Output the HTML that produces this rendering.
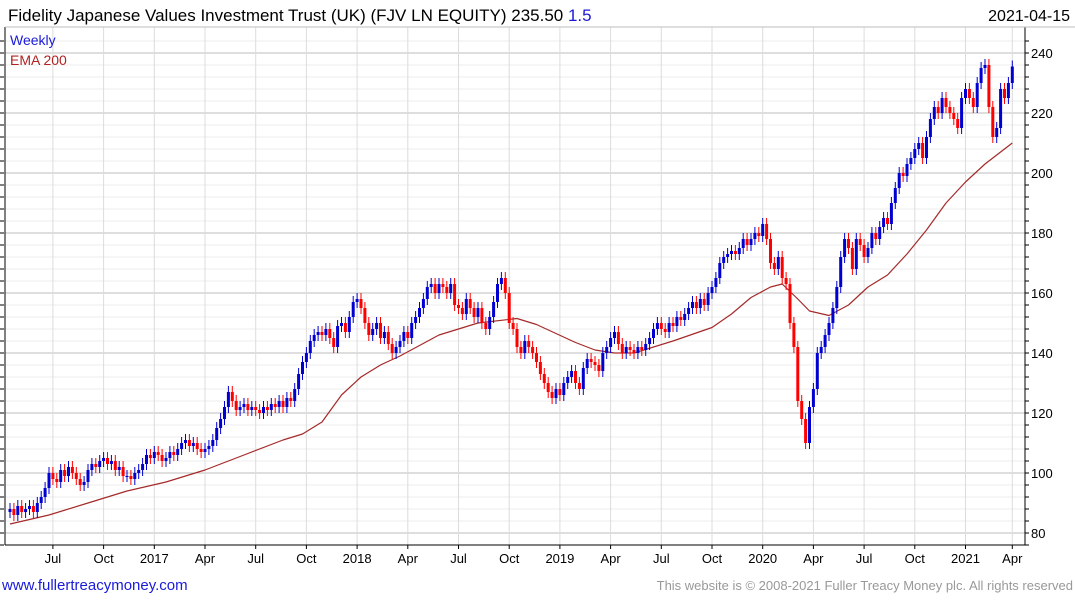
<!DOCTYPE html>
<html><head><meta charset="utf-8"><style>
body{margin:0;background:#fff;width:1075px;height:600px;overflow:hidden;font-family:"Liberation Sans",sans-serif}
svg{position:absolute;left:0;top:0}
</style></head><body>
<svg id="chart" width="1075" height="600" font-family="Liberation Sans, sans-serif">
<text x="8" y="21" font-size="17" fill="#000">Fidelity Japanese Values Investment Trust (UK) (FJV LN EQUITY) 235.50 <tspan fill="#1a1adb">1.5</tspan></text>
<text x="1070" y="21" font-size="16" fill="#000" text-anchor="end">2021-04-15</text>
<g id="grid"></g>
<g id="ema"></g>
<g id="candles"></g>
<g id="axes"></g>
<text x="10" y="45" font-size="14" fill="#1a1adb">Weekly</text>
<text x="10" y="65" font-size="14" fill="#b22222">EMA 200</text>
<text x="2" y="590" font-size="15" fill="#1a1adb">www.fullertreacymoney.com</text>
<text x="1073" y="590" font-size="13" fill="#999" text-anchor="end">This website is © 2008-2021 Fuller Treacy Money plc. All rights reserved</text>
</svg>
<script>
const closes=[88,86,89,87,88,89,87,90,92,95,
100,98,97,101,99,102,100,98,96,97,
101,103,102,104,105,103,104,101,102,99,
99,98,100,101,103,106,105,107,106,104,
105,107,106,108,110,111,109,110,108,107,
108,109,111,115,118,122,127,124,121,122,
123,121,122,121,120,122,121,123,122,124,
122,125,124,128,133,137,140,144,146,147,
146,148,145,142,149,150,147,152,157,158,
155,150,146,148,150,145,147,143,140,142,
144,147,145,150,152,155,158,162,163,160,
163,162,160,163,156,155,153,158,155,152,
155,150,148,152,157,163,165,160,150,148,
142,140,144,142,140,137,133,130,127,125,
128,126,130,132,134,130,128,135,138,137,
136,134,140,142,145,147,143,140,142,141,
140,142,141,143,145,148,150,148,147,150,
149,152,151,153,155,157,155,158,156,160,
162,165,170,172,173,174,173,175,178,176,
178,180,179,183,178,170,168,172,165,163,
150,142,124,118,110,122,128,140,142,146,
150,155,162,172,178,175,168,178,176,172,
175,180,178,182,185,183,190,195,200,199,
203,205,208,210,205,212,218,222,220,225,
222,220,218,215,225,228,225,222,230,235,
236,222,212,215,228,225,230,235.5];
const emaWeeks=[0,10,20,30,40,50,60,70,75,80,85,90,95,100,110,115,120,130,135,140,145,150,155,160,170,180,185,190,195,198,202,205,210,215,220,225,230,235,240,245,250,253,257];
const emaValues=[83,86,90,94,97,101,106,111,113,117,126,132,136,139,146,148,150,151.5,149.5,146.5,143.5,141,140,140,144,148.5,153,158.5,162,163,158,154,152.5,156,162,166,173,181,190,197,203,206,210];
const yTicks=[80,100,120,140,160,180,200,220,240];
const xLabels=["Jul","Oct","2017","Apr","Jul","Oct","2018","Apr","Jul","Oct","2019","Apr","Jul","Oct","2020","Apr","Jul","Oct","2021","Apr"];
const xLabelWeeks=[11,24,37,50,63,76,89,102,115,128,141,154,167,180,193,206,219,232,245,257];

const NS="http://www.w3.org/2000/svg";
const L=5,R=1025,T=27,B=545;
const yv=v=>533-(v-80)*3;
const xw=i=>10+i*3.9;
function mk(tag,attrs,parent){const e=document.createElementNS(NS,tag);for(const k in attrs)e.setAttribute(k,attrs[k]);parent.appendChild(e);return e;}
const grid=document.getElementById('grid'),axes=document.getElementById('axes'),cg=document.getElementById('candles'),eg=document.getElementById('ema');
for(let v=76;v<=244;v+=4){const y=yv(v);if(y<T||y>B)continue;
 const ln=mk('line',{x1:L,x2:R,y1:y,y2:y,stroke:(v%20===0)?'#bdbdbd':'#ececec','stroke-width':1},grid);
 
 
 mk('line',{x1:0,x2:4,y1:y,y2:y,stroke:'#000'},axes);
 mk('line',{x1:R,x2:R+4,y1:y,y2:y,stroke:'#000'},axes);
}
xLabelWeeks.forEach((w,i)=>{const x=xw(w);
 const ln=mk('line',{x1:x,x2:x,y1:T,y2:B,stroke:'#dcdcdc'},grid);
 
 
 mk('line',{x1:x,x2:x,y1:B,y2:B+4,stroke:'#000'},axes);
 const t=mk('text',{x:x,y:563,'font-size':13,'text-anchor':'middle',fill:'#000'},axes);t.textContent=xLabels[i];
 
 
});
mk('line',{x1:R,x2:R,y1:T,y2:B,stroke:'#000'},axes);
mk('line',{x1:L,x2:R,y1:B,y2:B,stroke:'#000'},axes);
mk('line',{x1:L,x2:L,y1:T,y2:B,stroke:'#000'},axes);
mk('line',{x1:L,x2:1075,y1:T,y2:T,stroke:'#bdbdbd'},axes);
yTicks.forEach(v=>{const t=mk('text',{x:1031,y:yv(v)+5,'font-size':13,fill:'#000'},axes);t.textContent=v;
 
 });
const pts=emaWeeks.map((w,i)=>xw(w).toFixed(1)+','+yv(emaValues[i]).toFixed(1)).join(' ');
const pl=mk('polyline',{points:pts,fill:'none',stroke:'#a52a2a','stroke-width':1.2,'stroke-linejoin':'round'},eg);


closes.forEach((c,i)=>{const o=i?closes[i-1]:c-1;const up=c>=o;const col=up?'#0000d0':'#ff0000';
 const x=xw(i);const hi=Math.max(o,c)+2,lo=Math.min(o,c)-2;
 const w=mk('line',{x1:x,x2:x,y1:yv(hi),y2:yv(lo),stroke:col,'stroke-width':1},cg);
 
 
 const top=yv(Math.max(o,c)),h=Math.max(1,Math.abs(o-c)*3);
 const r=mk('rect',{x:x-1.5,y:top,width:3,height:h,fill:col},cg);
 
 
});
</script>
</body></html>
